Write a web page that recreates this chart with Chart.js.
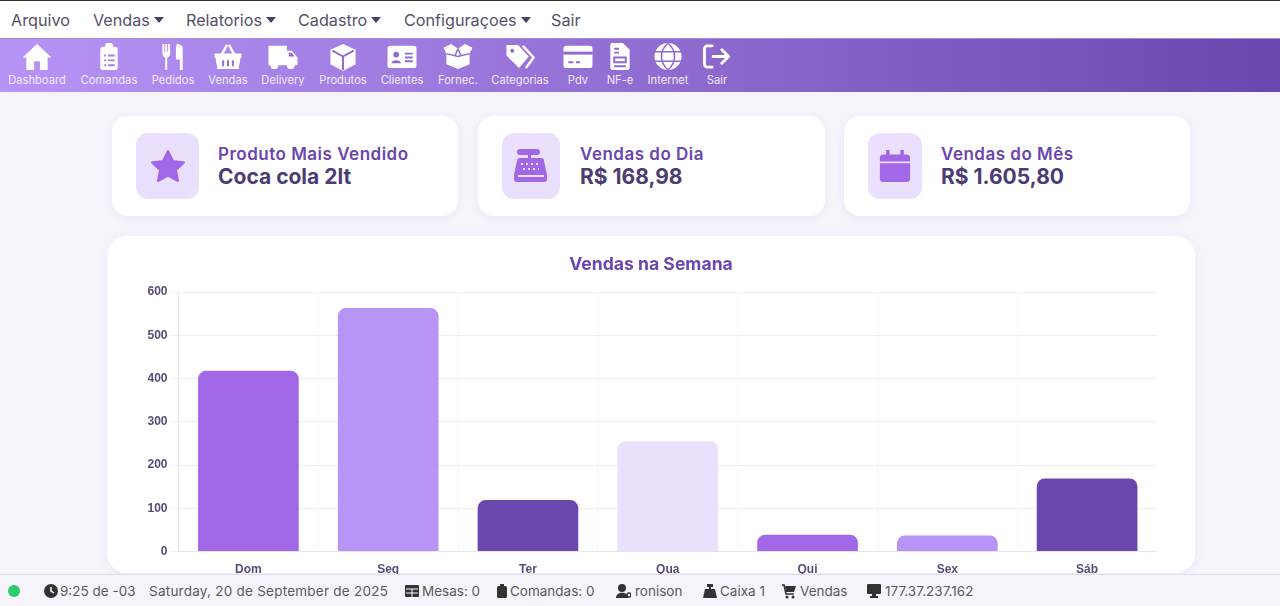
<!DOCTYPE html>
<html lang="pt-BR">
<head>
<meta charset="utf-8">
<title>Dashboard</title>
<script src="https://cdn.jsdelivr.net/npm/chart.js@4"></script>
<style>
  * { box-sizing: border-box; }
  html, body { margin: 0; height: 100%; overflow: hidden; }
  body { background: #f5f4fb; font-family: Inter, "Noto Sans", sans-serif; color: #4f4866; position: relative; }

  /* menu */
  #menu { position: absolute; inset: 0 0 auto 0; height: 38px; background: #fff; border-top: 1px solid #333; }
  #menu span { position: absolute; top: 10px; font-size: 16.2px; line-height: 18px; color: #565069; white-space: nowrap; }
  #menu i { display: inline-block; border: 5px solid transparent; border-top: 6px solid #4a3f6b; border-bottom: 0; margin-left: 4px; vertical-align: 3px; }

  /* barre d'icones */
  #toolbar { position: absolute; left: 0; right: 0; top: 38px; height: 54px; background: linear-gradient(90deg, #b794f6, #6b46ae); border-top: 1px solid #a78bd8; }
  .tool { position: absolute; top: 3px; width: 80px; text-align: center; color: #fff; }
  .tool svg { display: block; margin: 0 auto; width: 32px; height: 29px; }
  .tool span { display: block; margin-top: 2px; font-size: 11.2px; line-height: 14px; color: #f0e8ff; white-space: nowrap; }

  /* cartes */
  .card { position: absolute; top: 116px; height: 100px; background: #fff; border-radius: 16px; box-shadow: 0 2px 10px rgba(107,70,174,.07); }
  .card .box { position: absolute; top: 17px; height: 66px; background: #eadffc; border-radius: 12px; display: flex; align-items: center; justify-content: center; }
  .card .title { position: absolute; top: 28px; font-size: 17px; letter-spacing: .5px; line-height: 20px; font-weight: 600; color: #6b46ae; white-space: nowrap; }
  .card .value { position: absolute; top: 47px; font-size: 21px; line-height: 27px; font-weight: 700; color: #4d3b74; white-space: nowrap; }

  #chartCard { position: absolute; left: 107px; top: 236px; width: 1088px; height: 337px; background: #fff; border-radius: 20px; box-shadow: 0 2px 12px rgba(107,70,174,.07); }
  #chartWrap { position: absolute; left: 145px; top: 245px; width: 1012px; height: 330px; }

  /* pied */
  #status { position: absolute; left: 0; right: 0; bottom: 0; height: 32px; background: #f5f4fb; border-top: 1px solid #dedde6; color: #5a5a5a; }
  #status span { position: absolute; top: 8px; font-size: 13.5px; line-height: 17px; white-space: nowrap; }
  #status svg { position: absolute; top: 8px; width: 16px; height: 16px; }
  #dot { position: absolute; left: 8px; top: 10px; width: 12px; height: 12px; border-radius: 50%; background: #2ecc71; }
</style>
</head>
<body>
<div id="menu"></div>
<div id="toolbar"></div>
<div id="cards"></div>
<div id="chartCard"></div>
<div id="chartWrap"><canvas id="chartWeek"></canvas></div>
<div id="status"><div id="dot"></div></div>

<script>
// Donnees du graphique
const days = ['Dom', 'Seg', 'Ter', 'Qua', 'Qui', 'Sex', 'Sáb'];
const sales = [418, 563, 119, 255, 39, 37, 169];
const barColors = ['#a267e6', '#b794f6', '#6b46ae', '#eadffc', '#a267e6', '#b794f6', '#6b46ae'];

// Menu
const menuLabels = ['Arquivo', 'Vendas', 'Relatorios', 'Cadastro', 'Configuraçoes', 'Sair'];
const menuCaret = [false, true, true, true, true, false];
const menuX = [11, 93, 186, 298, 404, 551];

// Barre d'icones
const toolLabels = ['Dashboard', 'Comandas', 'Pedidos', 'Vendas', 'Delivery', 'Produtos', 'Clientes', 'Fornec.', 'Categorias', 'Pdv', 'NF-e', 'Internet', 'Sair'];
const toolX = [37, 109, 173, 228, 283, 343, 402, 458, 520, 578, 620, 668, 717];

const HOLE = '#8f68d0';
const icons = {
  home: '<path fill="#fff" d="M16 2 31 16h-4v13h-8v-9h-6v9H5V16H1z"/>',
  clip: '<rect x="7" y="5" width="18" height="24" rx="3" fill="#fff"/><rect x="12" y="1" width="8" height="7" rx="2" fill="#fff"/><path stroke="#a67fe6" stroke-width="2" d="M11 14h2M15 14h7M11 19h2M15 19h7M11 24h2M15 24h7"/>',
  food: '<path fill="#fff" d="M5 2h2v8h1V2h2v8h1V2h2v10c0 3-2 4-3 4v13H8V16c-1 0-3-1-3-4zM20 2c4 0 6 3 6 3v24h-3V18h-4V8c0-3 1-6 1-6z"/>',
  basket: '<path fill="none" stroke="#fff" stroke-width="2.5" d="M9 14 15 3M23 14 17 3"/><path fill="#fff" d="M2 12h28v4h-1l-2 12H5L3 16H2z"/><path stroke="' + HOLE + '" stroke-width="2" d="M11 19v6M16 19v6M21 19v6"/>',
  truck: '<path fill="#fff" d="M1 4h19v5h5l6 7v8h-3a4 4 0 0 1-8 0H11a4 4 0 0 1-8 0H1z"/><path fill="' + HOLE + '" d="M22 11h3l3 4h-6z"/><circle cx="7" cy="24" r="2" fill="#fff"/><circle cx="24" cy="24" r="2" fill="#fff"/>',
  box: '<path fill="#fff" d="M16 2 29 8v15l-13 7-13-7V8z"/><path fill="none" stroke="' + HOLE + '" stroke-width="2" d="M5 9l11 6 11-6M16 15v14"/>',
  card: '<rect x="1" y="4" width="30" height="23" rx="3" fill="#fff"/><circle cx="10" cy="13" r="3" fill="' + HOLE + '"/><path fill="' + HOLE + '" d="M5 22c0-4 10-4 10 0zM19 11h8v2h-8zM19 15h8v2h-8zM19 19h8v2h-8z"/>',
  open: '<path fill="#fff" d="M1 6 9 2l7 5 7-5 8 4-3 6v11l-12 5-12-5V12z"/><path fill="none" stroke="' + HOLE + '" stroke-width="1.5" d="M4 12l12 3 12-3M16 7l-3 7M16 7l3 7"/>',
  tag: '<path fill="#fff" d="M2 3h12l11 12-10 12L2 14z"/><path fill="none" stroke="#fff" stroke-width="2.5" d="M19 4l11 12-8 11"/><circle cx="8" cy="9" r="2" fill="' + HOLE + '"/>',
  pay: '<rect x="1" y="4" width="30" height="23" rx="3" fill="#fff"/><rect x="1" y="10" width="30" height="3" fill="' + HOLE + '"/><path stroke="' + HOLE + '" stroke-width="2" d="M6 21h5M14 21h4"/>',
  doc: '<path fill="#fff" d="M7 1h12l7 7v18a3 3 0 0 1-3 3H9a3 3 0 0 1-3-3V3z"/><path stroke="' + HOLE + '" fill="none" stroke-width="2" d="M10 7h5M10 11h5M10 16h12v5H10zM10 25h12"/>',
  globe: '<circle cx="16" cy="15" r="14" fill="#fff"/><path fill="none" stroke="' + HOLE + '" stroke-width="1.6" d="M2 10h28M2 20h28M16 1c-9 8-9 20 0 28M16 1c9 8 9 20 0 28"/>',
  exit: '<path fill="none" stroke="#fff" stroke-width="3" stroke-linecap="round" stroke-linejoin="round" d="M11 4H6a3 3 0 0 0-3 3v16a3 3 0 0 0 3 3h5M12 15h16M21 8l7 7-7 7"/>'
};
const toolIcons = ['home', 'clip', 'food', 'basket', 'truck', 'box', 'card', 'open', 'tag', 'pay', 'doc', 'globe', 'exit'];

// Cartes du haut
const cardTitles = ['Produto Mais Vendido', 'Vendas do Dia', 'Vendas do Mês'];
const cardValues = ['Coca cola 2lt', 'R$ 168,98', 'R$ 1.605,80'];
const cardIcons = [
  '<path fill="#a267e6" stroke="#a267e6" stroke-width="2" stroke-linejoin="round" d="M18 3l5 10 11 1.500-8 7.500 2 11-10-5.500-10 5.500 2-11-8-7.500 11-1.500z"/>',
  '<path fill="#a267e6" d="M7 1h17a2 2 0 0 1 0 6h-6v3h10c2 0 3 1 3 3l3 14v4a3 3 0 0 1-3 3H4a3 3 0 0 1-3-3v-4l3-14c0-2 1-3 3-3h8V7H7a2 2 0 0 1 0-6z"/><path stroke="#eadffc" stroke-width="2" stroke-dasharray="2 3" d="M8 16h20M10 21h16"/><path stroke="#eadffc" stroke-width="2" d="M5 28h26"/>',
  '<path fill="#a267e6" d="M8 0h4v5h12V0h4v5h3a4 4 0 0 1 4 4v4H1V9a4 4 0 0 1 4-4h3zM1 15h34v17a4 4 0 0 1-4 4H5a4 4 0 0 1-4-4z"/>'
];
const cardIconSize = [36, 36, 32];
const cardLeft = [112, 478, 844];
const cardWidth = [346, 347, 346];
const boxLeft = [24, 24, 24];
const boxWidth = [63, 58, 54];
const textLeft = [106, 102, 97];

// Barre d'etat
const statusLabels = ['9:25 de -03', 'Saturday, 20 de September de 2025', 'Mesas: 0', 'Comandas: 0', 'ronison', 'Caixa 1', 'Vendas', '177.37.237.162'];
const statusX = [60, 149, 422, 510, 635, 720, 800, 885];
const statusIcons = [
  [43, '<circle cx="8" cy="8" r="7" fill="#333"/><path stroke="#fff" stroke-width="1.500" fill="none" d="M8 4v4l3 2"/>'],
  [404, '<rect x="1" y="2" width="14" height="12" rx="1" fill="#333"/><path stroke="#fff" d="M2 6h12M2 10h12M8 6v8"/>'],
  [494, '<rect x="3" y="3" width="10" height="12" rx="1.500" fill="#333"/><rect x="6" y="1" width="4" height="3" fill="#333"/>'],
  [615, '<circle cx="7" cy="5" r="4" fill="#333"/><path fill="#333" d="M1 15c0-7 12-7 12 0z"/><circle cx="14" cy="12" r="2" fill="none" stroke="#333" stroke-width="1.500"/>'],
  [702, '<rect x="5" y="1" width="6" height="3" fill="#333"/><rect x="7" y="4" width="2" height="3" fill="#333"/><path fill="#333" d="M3 6h10l2 9H1z"/>'],
  [781, '<path fill="none" stroke="#333" stroke-width="1.500" d="M1 2h2l2 9h8"/><path fill="#333" d="M4 3h11l-2 6H5z"/><circle cx="6" cy="14" r="1.500" fill="#333"/><circle cx="12" cy="14" r="1.500" fill="#333"/>'],
  [866, '<rect x="1" y="1" width="14" height="10" rx="1" fill="#333"/><path fill="#333" d="M6 11h4v2h2v2H4v-2h2z"/>']
];

// Construire le menu
const menu = document.getElementById('menu');
menuLabels.forEach((label, i) => {
  const el = document.createElement('span');
  el.style.left = menuX[i] + 'px';
  el.textContent = label;
  if (menuCaret[i]) el.appendChild(document.createElement('i'));
  menu.appendChild(el);
});

// Construire la barre d'icones
const toolbar = document.getElementById('toolbar');
toolLabels.forEach((label, i) => {
  const el = document.createElement('div');
  el.className = 'tool';
  el.style.left = (toolX[i] - 40) + 'px';
  el.innerHTML = `<svg viewBox="0 0 32 30">${icons[toolIcons[i]]}</svg><span>${label}</span>`;
  toolbar.appendChild(el);
});

// Construire les cartes
const cards = document.getElementById('cards');
cardTitles.forEach((title, i) => {
  const el = document.createElement('div');
  el.className = 'card';
  el.style.left = cardLeft[i] + 'px';
  el.style.width = cardWidth[i] + 'px';
  el.innerHTML = `<div class="box" style="left:${boxLeft[i]}px;width:${boxWidth[i]}px"><svg width="${cardIconSize[i]}" height="${cardIconSize[i]}" viewBox="0 0 36 36">${cardIcons[i]}</svg></div>
    <div class="title" style="left:${textLeft[i]}px">${title}</div>
    <div class="value" style="left:${textLeft[i]}px">${cardValues[i]}</div>`;
  cards.appendChild(el);
});

// Construire la barre d'etat
const statusBar = document.getElementById('status');
statusLabels.forEach((label, i) => {
  const el = document.createElement('span');
  el.style.left = statusX[i] + 'px';
  el.textContent = label;
  if (i === 1) el.style.letterSpacing = '.24px';
  statusBar.appendChild(el);
});
statusIcons.forEach(([x, svg]) => {
  statusBar.insertAdjacentHTML('beforeend', `<svg style="left:${x}px" viewBox="0 0 16 16">${svg}</svg>`);
});

// Graphique des ventes
new Chart(document.getElementById('chartWeek'), {
  type: 'bar',
  data: {
    labels: days,
    datasets: [{
      data: sales,
      backgroundColor: barColors,
      borderRadius: 8,
      borderSkipped: 'bottom'
    }]
  },
  options: {
    responsive: true,
    maintainAspectRatio: false,
    animation: false,
    plugins: {
      legend: { display: false },
      tooltip: { enabled: false },
      title: {
        display: true,
        text: 'Vendas na Semana',
        color: '#6b46ae',
        font: { family: 'Inter', size: 17.6, weight: '700' },
        padding: { top: 9, bottom: 17 }
      }
    },
    scales: {
      x: {
        grid: { color: '#f6f5fa', tickColor: 'transparent' },
        border: { color: '#e6e4ee' },
        ticks: { color: '#5a4a7a', font: { family: '"Liberation Sans"', size: 12, weight: 'bold' } },
        afterFit: s => { s.height = 23.5; }
      },
      y: {
        min: 0,
        max: 600,
        grid: { color: '#eeecf4' },
        border: { color: '#e6e4ee' },
        ticks: { stepSize: 100, color: '#5a4a7a', font: { family: '"Liberation Sans"', size: 12, weight: 'bold' } },
        afterFit: s => { s.width = 33.5; }
      }
    }
  }
});
</script>
</body>
</html>
